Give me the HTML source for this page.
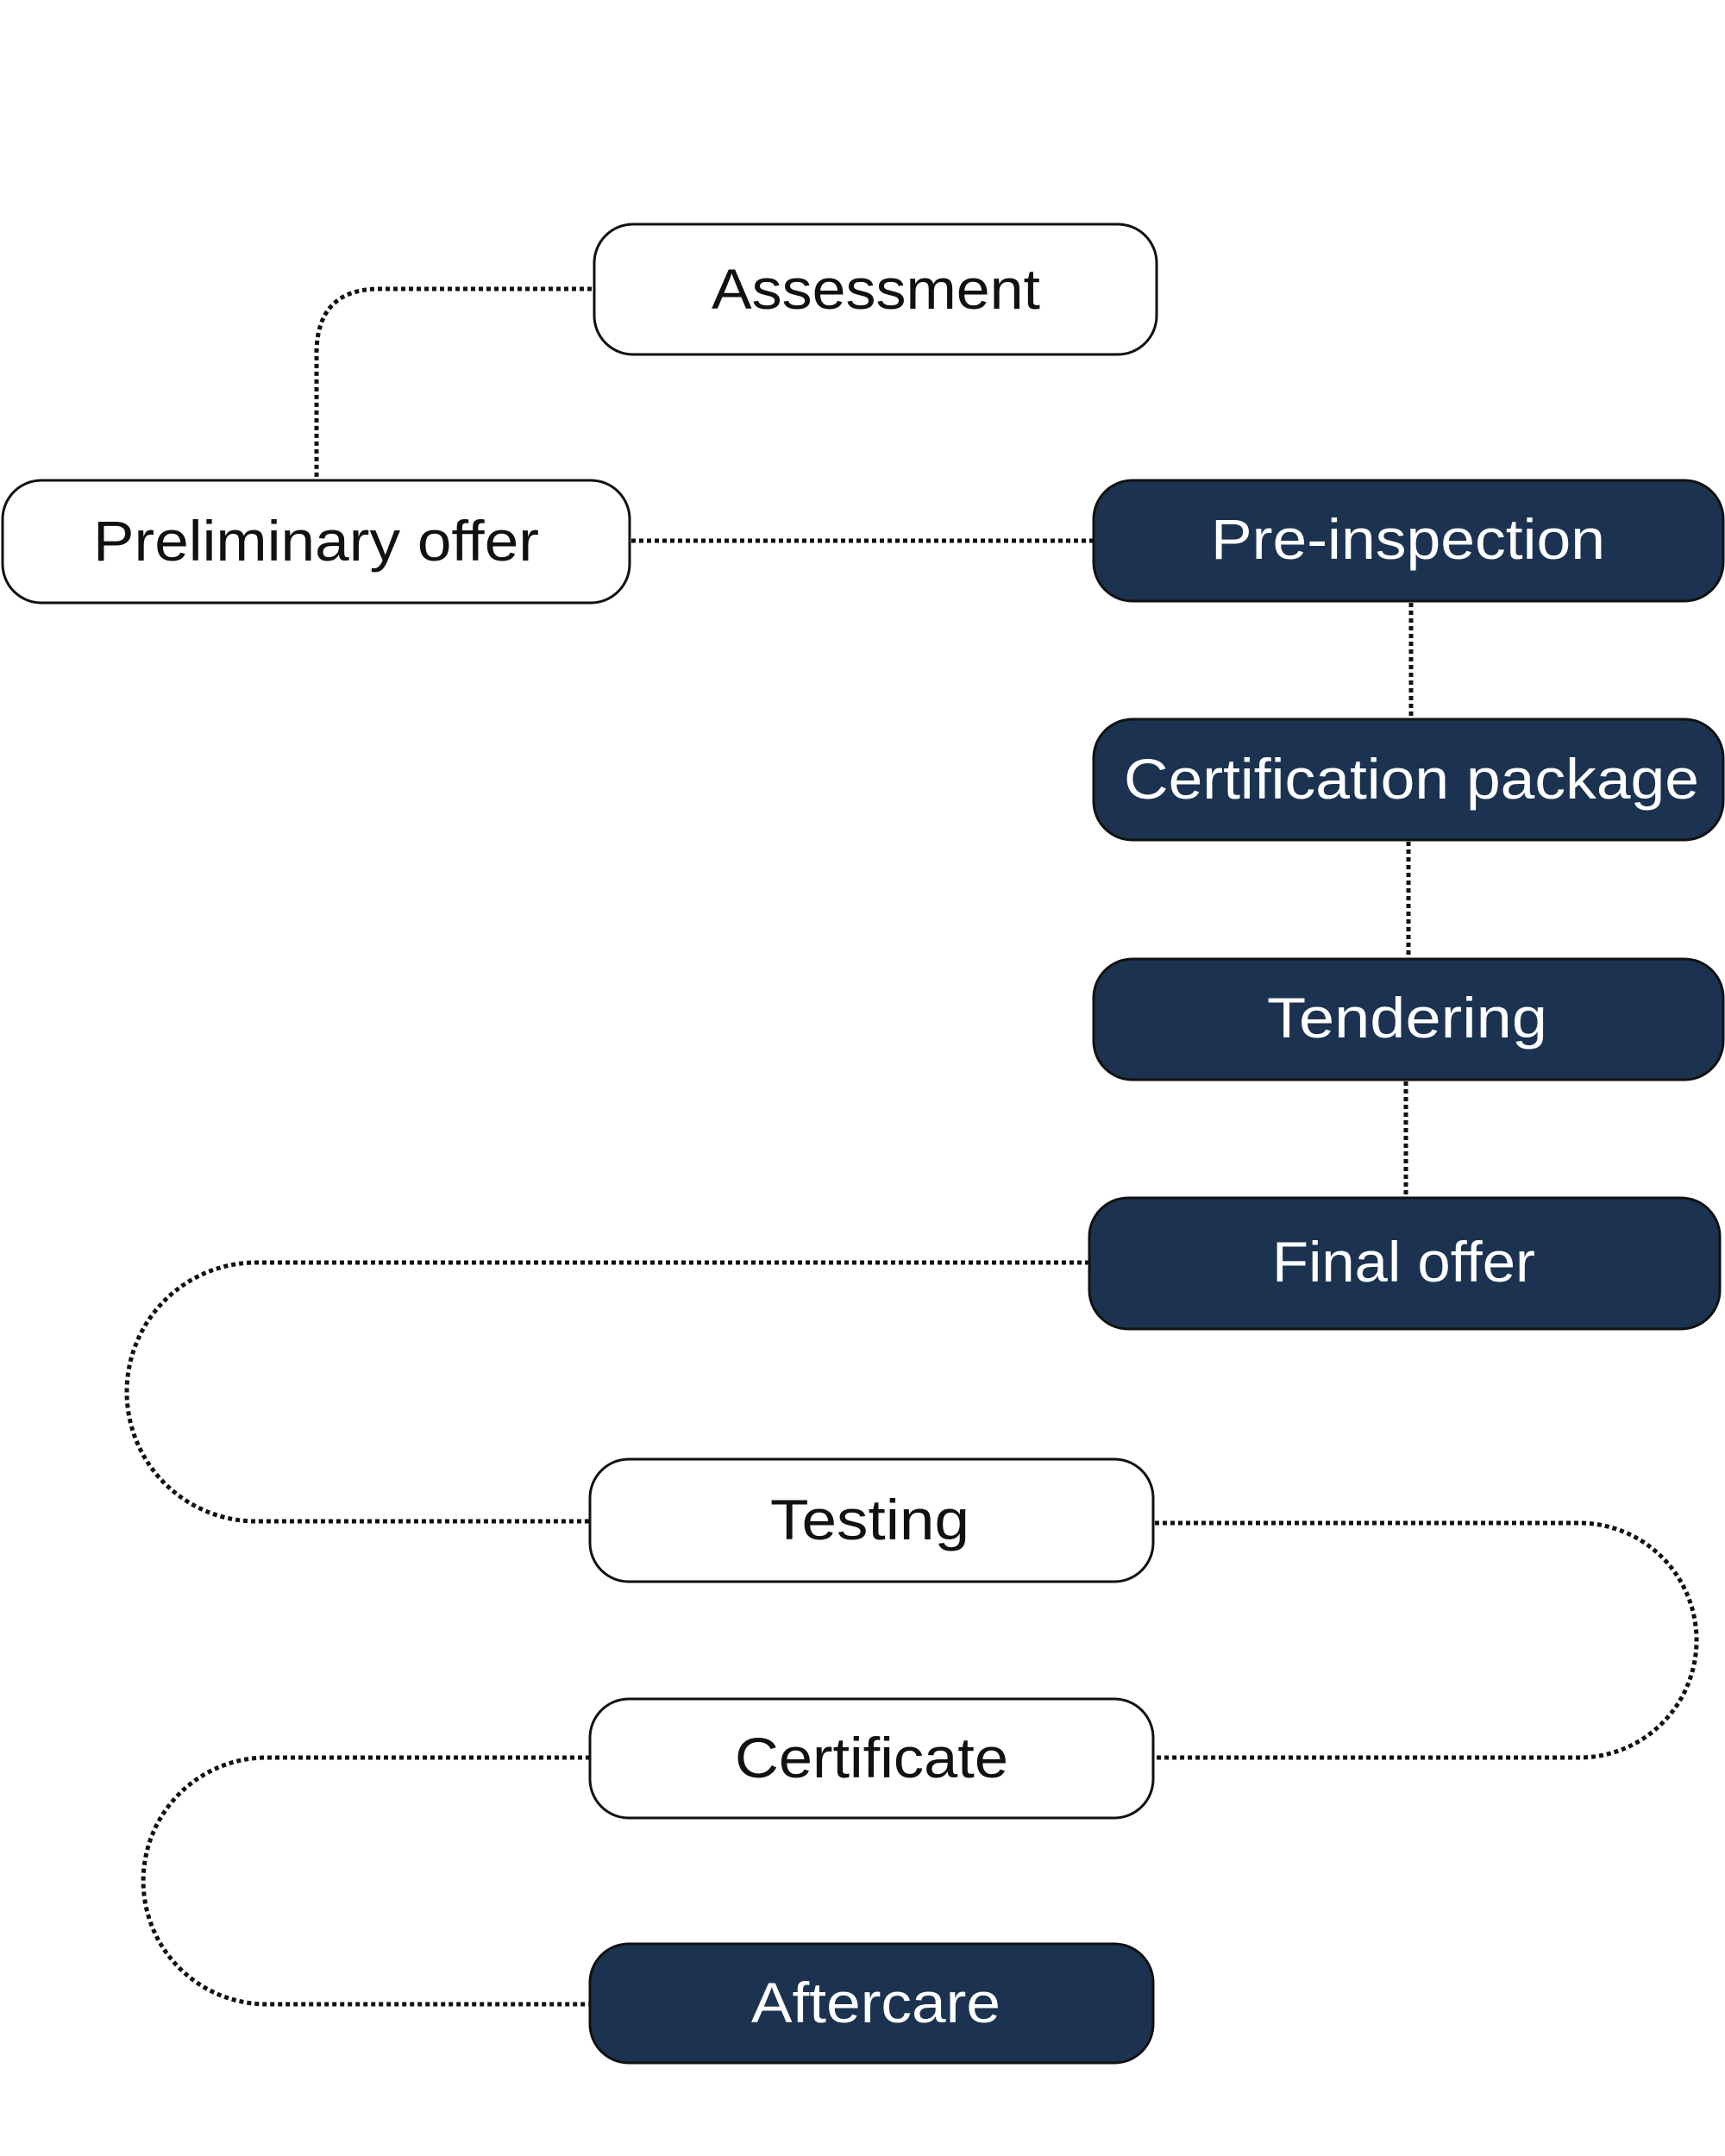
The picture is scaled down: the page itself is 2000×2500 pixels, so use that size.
<!DOCTYPE html>
<html><head><meta charset="utf-8"><style>html,body{margin:0;padding:0;background:#fff}svg{display:block}</style></head>
<body>
<svg width="2000" height="2500" viewBox="0 0 2000 2500" xmlns="http://www.w3.org/2000/svg">
<g fill="none" stroke="#111" stroke-width="5" stroke-dasharray="5 4">
<path d="M686 335 H440 Q367 335 367 410 V557"/>
<path d="M732 627 H1268"/>
<path d="M1636 699 V834"/>
<path d="M1633 976 V1112"/>
<path d="M1630 1254 V1389"/>
<path d="M1263 1464 H297 A150 150 0 0 0 297 1764 H684"/>
<path d="M1339 1766 H1831 A136 136 0 0 1 1831 2038 H1339"/>
<path d="M684 2038 H309 A143 143 0 0 0 309 2324 H684"/>
</g>
<g stroke="#111" stroke-width="3">
<rect x="689" y="260" width="652" height="151" rx="45" fill="#fff"/>
<rect x="3" y="557" width="727" height="142" rx="45" fill="#fff"/>
<rect x="1268" y="557" width="730" height="140" rx="45" fill="#1b3350"/>
<rect x="1268" y="834" width="730" height="140" rx="45" fill="#1b3350"/>
<rect x="1268" y="1112" width="730" height="140" rx="45" fill="#1b3350"/>
<rect x="1263" y="1389" width="731" height="152" rx="45" fill="#1b3350"/>
<rect x="684" y="1692" width="653" height="142" rx="45" fill="#fff"/>
<rect x="684" y="1970" width="653" height="138" rx="45" fill="#fff"/>
<rect x="684" y="2254" width="653" height="138" rx="45" fill="#1b3350"/>
</g>
<g font-family="Liberation Sans, sans-serif" font-size="66" lengthAdjust="spacingAndGlyphs">
<text x="825" y="358" textLength="381" lengthAdjust="spacingAndGlyphs" fill="#111">Assessment</text>
<text x="108" y="650" textLength="517" lengthAdjust="spacingAndGlyphs" fill="#111">Preliminary offer</text>
<text x="1404" y="648" textLength="457" lengthAdjust="spacingAndGlyphs" fill="#fff">Pre-inspection</text>
<text x="1303" y="926" textLength="667" lengthAdjust="spacingAndGlyphs" fill="#fff">Certification package</text>
<text x="1469" y="1203" textLength="325" lengthAdjust="spacingAndGlyphs" fill="#fff">Tendering</text>
<text x="1475" y="1486" textLength="305" lengthAdjust="spacingAndGlyphs" fill="#fff">Final offer</text>
<text x="893" y="1785" textLength="231" lengthAdjust="spacingAndGlyphs" fill="#111">Testing</text>
<text x="852" y="2061" textLength="317" lengthAdjust="spacingAndGlyphs" fill="#111">Certificate</text>
<text x="871" y="2345" textLength="289" lengthAdjust="spacingAndGlyphs" fill="#fff">Aftercare</text>
</g>
</svg>
</body></html>
